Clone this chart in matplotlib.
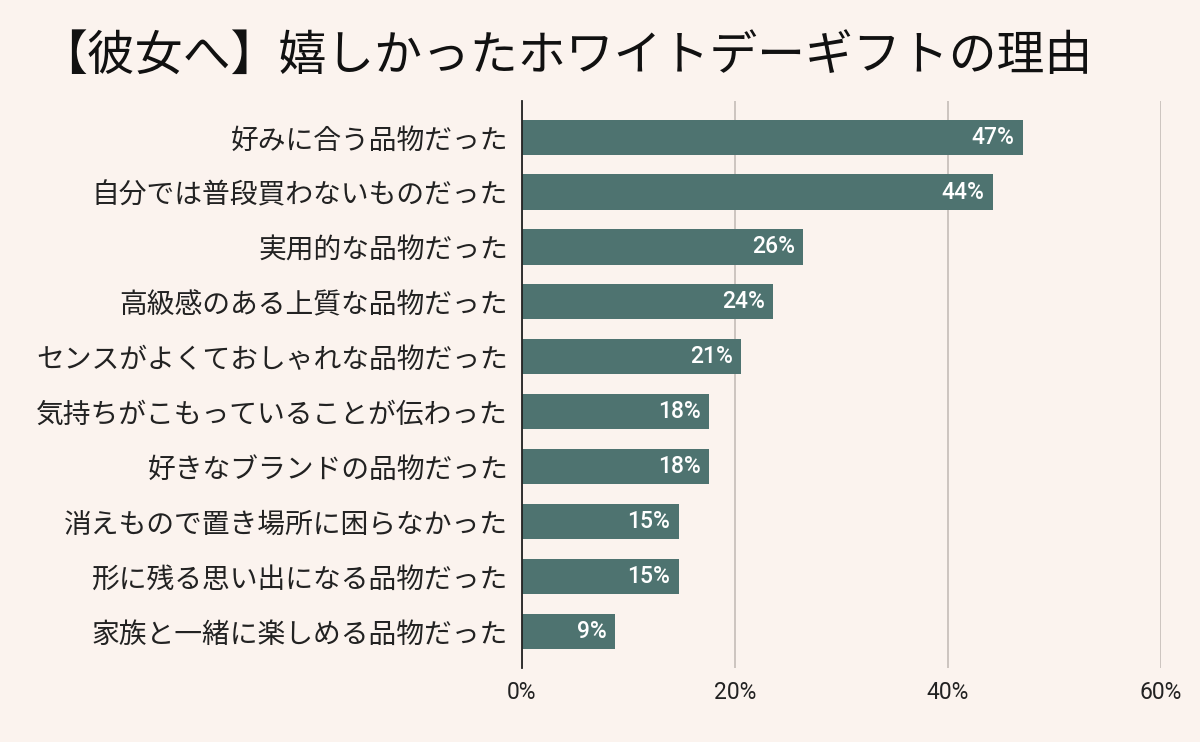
import matplotlib
matplotlib.use("Agg")
import matplotlib.pyplot as plt

plt.rcParams['font.family'] = ['Noto Sans CJK JP', 'DejaVu Sans']

title = "【彼女へ】嬉しかったホワイトデーギフトの理由"
categories = [
    "好みに合う品物だった",
    "自分では普段買わないものだった",
    "実用的な品物だった",
    "高級感のある上質な品物だった",
    "センスがよくておしゃれな品物だった",
    "気持ちがこもっていることが伝わった",
    "好きなブランドの品物だった",
    "消えもので置き場所に困らなかった",
    "形に残る思い出になる品物だった",
    "家族と一緒に楽しめる品物だった",
]
values = [47.0, 44.2, 26.4, 23.6, 20.6, 17.6, 17.6, 14.7, 14.7, 8.7]
xticks = [0, 20, 40, 60]
xtick_labels = ["0%", "20%", "40%", "60%"]

bg = "#FBF3EE"
bar_color = "#4E7370"

fig = plt.figure(figsize=(12, 7.42), dpi=100, facecolor=bg)
ax = fig.add_axes([0.435, 0.0997, 0.9675 - 0.435, 0.864 - 0.0997])
ax.set_facecolor(bg)

ys = list(range(len(categories)))
bars = ax.barh(ys, values, height=0.64, color=bar_color, zorder=3)

ax.set_xlim(0, 60)
ax.set_ylim(9.67, -0.66)
ax.set_xticks(xticks)
ax.set_xticklabels(xtick_labels, fontfamily=['Roboto', 'DejaVu Sans'], fontsize=16.5, color="#222222")
ax.set_yticks(ys)
ax.set_yticklabels(categories, fontsize=20, color="#222222")
ax.tick_params(axis='both', length=0)
ax.tick_params(axis='y', pad=10)
ax.tick_params(axis='x', pad=9)
ax.grid(axis='x', color="#C9C1BC", linewidth=1.3, zorder=0)
for s in ['top', 'right', 'bottom']:
    ax.spines[s].set_visible(False)
ax.spines['left'].set_color("#222222")
ax.spines['left'].set_linewidth(1.3)
ax.spines['left'].set_zorder(4)

for y, v in zip(ys, values):
    ax.annotate(f"{round(v):d}%", xy=(v, y), xytext=(-6, 0), textcoords='offset points',
                ha='right', va='center', color='white', fontsize=16.5, fontweight='medium',
                fontfamily=['Roboto', 'DejaVu Sans'], zorder=5)

fig.text(39 / 1200, 1 - 57 / 742, title, fontsize=34.5, ha='left', va='center', color="#111111")

fig.savefig("out.png", dpi=100, facecolor=bg)
